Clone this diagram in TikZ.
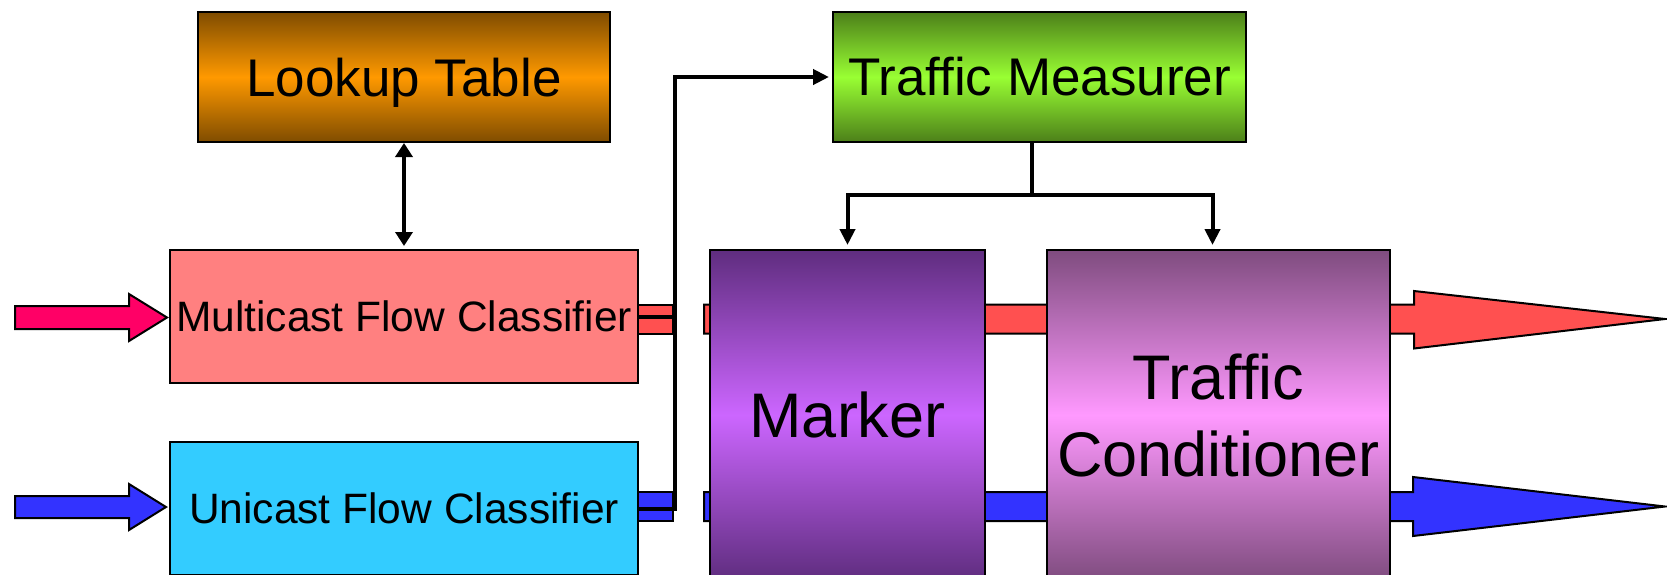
\documentclass[tikz,border=0pt]{standalone}
\usepackage{fontspec}
\setmainfont{Liberation Sans}
\usetikzlibrary{arrows.meta}

\definecolor{FlowRed}{HTML}{FF5050}
\definecolor{FlowBlue}{HTML}{3333FF}
\definecolor{InRed}{HTML}{FF0066}
\definecolor{McastPink}{HTML}{FF8080}
\definecolor{UcastCyan}{HTML}{33CCFF}
\definecolor{TableDark}{HTML}{7F4C00}
\definecolor{TableLight}{HTML}{FF9900}
\definecolor{MeterDark}{HTML}{4C7F19}
\definecolor{MeterLight}{HTML}{99FF33}
\definecolor{MarkDark}{HTML}{5F2D7F}
\definecolor{MarkLight}{HTML}{CC66FF}
\definecolor{CondDark}{HTML}{7F4C7F}
\definecolor{CondLight}{HTML}{FF99FF}

\tikzset{
  block/.style={draw=black, line width=2pt, inner sep=0pt},
  wire/.style={line width=4pt},
  headed/.style={-{Triangle[length=16pt,width=15pt]}},
  twoway/.style={{Triangle[length=14pt,width=17pt]}-{Triangle[length=14pt,width=17pt]}},
  fat/.style={draw=black, line width=2pt},
}

\begin{document}
\begin{tikzpicture}[x=1pt, y=-1pt]
  \useasboundingbox (0,0) rectangle (1667,574);
  \clip (0,0) rectangle (1667,574);

  % incoming flows
  \filldraw[fat, fill=InRed] (15,306) -- (129,306) -- (129,294) -- (167,317.5)
    -- (129,341) -- (129,329) -- (15,329) -- cycle;
  \filldraw[fat, fill=FlowBlue] (15,496) -- (129,496) -- (129,484) -- (166,507)
    -- (129,530) -- (129,518) -- (15,518) -- cycle;

  % outgoing flows (shafts run behind marker and conditioner)
  \filldraw[fat, fill=FlowRed] (704,304.5) -- (1414,304.5) -- (1414,291) -- (1665,319)
    -- (1414,348.5) -- (1414,333.5) -- (704,333.5) -- cycle;
  \filldraw[fat, fill=FlowBlue] (704,492) -- (1413,492) -- (1413,477) -- (1665,506.5)
    -- (1413,536) -- (1413,521) -- (704,521) -- cycle;

  % classifier output stubs
  \filldraw[fat, fill=FlowRed] (638,305) rectangle (673,334);
  \filldraw[fat, fill=FlowBlue] (638,492) rectangle (673,521);

  \node[block, top color=TableDark, bottom color=TableDark, middle color=TableLight,
    minimum width=412pt, minimum height=130pt, text depth=0pt,
    font=\fontsize{53}{60}\selectfont] (lt) at (404,77) {Lookup Table};
  \node[block, top color=MeterDark, bottom color=MeterDark, middle color=MeterLight,
    minimum width=413pt, minimum height=130pt,
    font=\fontsize{53}{60}\selectfont] (tm) at (1039.5,77) {Traffic Measurer};
  \node[block, fill=McastPink, minimum width=468pt, minimum height=133pt,
    font=\fontsize{42.5}{50}\selectfont] (mcf) at (404,316.5) {Multicast Flow Classifier};
  \node[block, fill=UcastCyan, minimum width=468pt, minimum height=133pt,
    font=\fontsize{42.5}{50}\selectfont] (ucf) at (404,508.5) {Unicast Flow Classifier};
  \node[block, top color=MarkDark, bottom color=MarkDark, middle color=MarkLight,
    minimum width=275pt, minimum height=330pt,
    font=\fontsize{63}{77}\selectfont] (mk) at (847.5,415) {Marker};
  \node[block, top color=CondDark, bottom color=CondDark, middle color=CondLight,
    minimum width=343pt, minimum height=330pt, align=center,
    font=\fontsize{63}{77}\selectfont] (tc) at (1218.5,415) {Traffic\\Conditioner};

  % connectors
  \draw[wire, twoway, shorten >=3pt] (lt.south) -- (mcf.north);
  \draw[wire] (mcf.east) -- ++(36,0);
  \draw[wire, headed, shorten >=3pt] (ucf.east) -- ++(36,0) |- (tm.west);
  \draw[wire] ([xshift=-8pt]tm.south) -- ++(0,52) coordinate (fork);
  \draw[wire, headed, shorten >=4pt] (fork) -| (mk.north);
  \draw[wire, headed, shorten >=4pt] (fork) -| ([xshift=-6pt]tc.north);
\end{tikzpicture}
\end{document}
